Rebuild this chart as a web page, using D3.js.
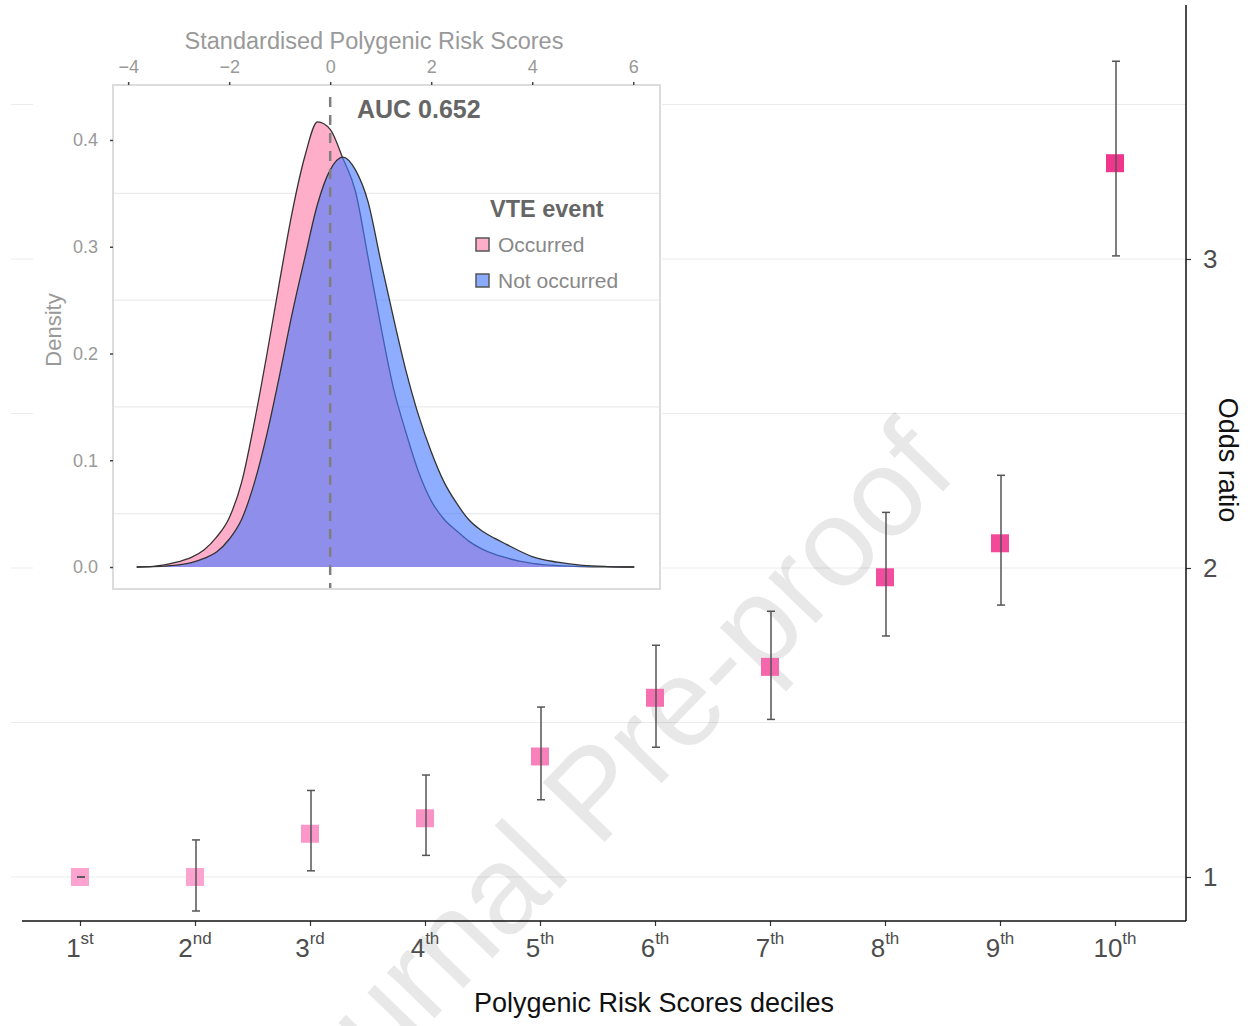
<!DOCTYPE html>
<html>
<head>
<meta charset="utf-8">
<script src="https://cdn.jsdelivr.net/npm/d3@7"></script>
<style>
  body { margin: 0; background: #fff; }
  svg { display: block; font-family: "Liberation Sans", Arial, sans-serif; }
</style>
</head>
<body>
<svg id="chart" width="1250" height="1026"></svg>
<script>
// odds ratios by PRS decile
var deciles = ['1', '2', '3', '4', '5', '6', '7', '8', '9', '10'];
var suffixes = ['st', 'nd', 'rd', 'th', 'th', 'th', 'th', 'th', 'th', 'th'];
var oddsRatio = [1.00, 1.00, 1.14, 1.19, 1.39, 1.58, 1.68, 1.97, 2.08, 3.31];
var ciLow = [1.00, 0.89, 1.02, 1.07, 1.25, 1.42, 1.51, 1.78, 1.88, 3.01];
var ciHigh = [1.00, 1.12, 1.28, 1.33, 1.55, 1.75, 1.86, 2.18, 2.30, 3.64];
var orTicks = [1, 2, 3];

// density of standardised PRS (inset)
var prsGrid = [-3.83, -3.5, -3.0, -2.75, -2.5, -2.25, -2.0, -1.75, -1.5, -1.25, -1.0, -0.75, -0.5, -0.25,
    0.0, 0.25, 0.5, 0.75, 1.0, 1.25, 1.5, 1.75, 2.0, 2.25, 2.5, 2.75, 3.0, 3.25, 3.5, 3.75, 4.0, 4.5, 5.0, 5.5, 6.02];
var densOccurred = [0, 0.0006, 0.005, 0.009, 0.016, 0.028, 0.046, 0.08, 0.136, 0.2, 0.268, 0.333, 0.385, 0.417,
    0.41, 0.383, 0.352, 0.29, 0.226, 0.168, 0.126, 0.089, 0.062, 0.045, 0.034, 0.024, 0.017, 0.012, 0.0085, 0.0055, 0.0035, 0.0013, 0.0004, 0.0001, 0];
var densNotOccurred = [0, 0.0003, 0.002, 0.004, 0.008, 0.014, 0.026, 0.045, 0.079, 0.125, 0.18, 0.238, 0.29, 0.34,
    0.372, 0.384, 0.372, 0.342, 0.287, 0.234, 0.184, 0.142, 0.108, 0.08, 0.06, 0.044, 0.034, 0.027, 0.021, 0.015, 0.0098, 0.0045, 0.0015, 0.0004, 0];
var prsTicks = [-4, -2, 0, 2, 4, 6];
var densTicks = [0, 0.1, 0.2, 0.3, 0.4];
var densMinor = [0.05, 0.15, 0.25, 0.35];
var groups = ['Occurred', 'Not occurred'];
var aucLabel = 'AUC 0.652';

var svg = d3.select('#chart');

// ---- main panel ----
var panel = {l: 11, r: 1186, t: 5, b: 921};

var x = d3.scalePoint()
    .domain(deciles)
    .range([80, 1115]);

var y = d3.scaleLinear()
    .domain([0.8576, 3.822])
    .range([panel.b, panel.t]);

var gridVals = [1, 1.5, 2, 2.5, 3, 3.5];
svg.append('g')
    .selectAll('line')
    .data(gridVals)
    .enter()
    .append('line')
    .attr('x1', panel.l)
    .attr('x2', panel.r)
    .attr('y1', function (d) { return y(d); })
    .attr('y2', function (d) { return y(d); })
    .style('stroke', '#ebebeb')
    .style('stroke-width', 1.2);

// watermark
svg.append('text')
    .attr('transform', 'translate(' + [624, 822] + ') rotate(-46)')
    .attr('text-anchor', 'middle')
    .style('font-size', '125px')
    .style('fill', '#000')
    .style('fill-opacity', 0.09)
    .text('Journal Pre-proof');

// bottom axis
var xAxis = svg.append('g')
    .attr('transform', 'translate(0,' + panel.b + ')')
    .call(d3.axisBottom(x).tickSize(5).tickFormat(''));
xAxis.select('.domain').remove();
xAxis.selectAll('.tick line').style('stroke', '#333').style('stroke-width', 1.2);
svg.append('line')
    .attr('x1', 22).attr('x2', panel.r)
    .attr('y1', panel.b).attr('y2', panel.b)
    .style('stroke', '#111').style('stroke-width', 1.5);

var xl = svg.append('g')
    .selectAll('text')
    .data(deciles)
    .enter()
    .append('text')
    .attr('x', function (d) { return x(d); })
    .attr('y', 957)
    .attr('text-anchor', 'middle')
    .style('font-size', '26px')
    .style('fill', '#4d4d4d');
xl.append('tspan').text(function (d) { return d; });
xl.append('tspan')
    .attr('dy', -13)
    .style('font-size', '17px')
    .text(function (d, i) { return suffixes[i]; });

// right axis
var yAxis = svg.append('g')
    .attr('transform', 'translate(' + panel.r + ',0)')
    .call(d3.axisRight(y).tickValues(orTicks).tickSize(5).tickPadding(12).tickFormat(d3.format('d')));
yAxis.select('.domain').remove();
yAxis.selectAll('.tick line').style('stroke', '#333').style('stroke-width', 1.2);
yAxis.selectAll('.tick text')
    .style('font-size', '26px')
    .style('fill', '#4d4d4d')
    .style('font-family', '"Liberation Sans", Arial, sans-serif');
svg.append('line')
    .attr('x1', panel.r).attr('x2', panel.r)
    .attr('y1', panel.t).attr('y2', panel.b)
    .style('stroke', '#111').style('stroke-width', 1.5);

svg.append('text')
    .attr('x', 654)
    .attr('y', 1012)
    .attr('text-anchor', 'middle')
    .style('font-size', '27px')
    .style('fill', '#111')
    .text('Polygenic Risk Scores deciles');

svg.append('text')
    .attr('transform', 'translate(' + [1219, 460] + ') rotate(90)')
    .attr('text-anchor', 'middle')
    .style('font-size', '27px')
    .style('fill', '#111')
    .text('Odds ratio');

// points and error bars
var pointColor = d3.scaleLinear()
    .domain([1, 2, 3.3])
    .range(['#fca4cf', '#f24a9c', '#f0358d']);
var sq = 18;
var cap = 4;

var pts = deciles.map(function (d, i) {
    return {dec: d, or: oddsRatio[i], lo: ciLow[i], hi: ciHigh[i]};
});

svg.append('g')
    .selectAll('rect')
    .data(pts)
    .enter()
    .append('rect')
    .attr('x', function (d) { return x(d.dec) - sq / 2; })
    .attr('y', function (d) { return y(d.or) - sq / 2; })
    .attr('width', sq)
    .attr('height', sq)
    .style('fill', function (d) { return pointColor(d.or); });

var eb = svg.append('g')
    .selectAll('g')
    .data(pts)
    .enter()
    .append('g')
    .style('stroke', '#555')
    .style('stroke-width', 1.5);
eb.append('line')
    .attr('x1', function (d) { return x(d.dec) + 1; })
    .attr('x2', function (d) { return x(d.dec) + 1; })
    .attr('y1', function (d) { return y(d.lo); })
    .attr('y2', function (d) { return y(d.hi); });
eb.append('line')
    .attr('x1', function (d) { return x(d.dec) + 1 - cap; })
    .attr('x2', function (d) { return x(d.dec) + 1 + cap; })
    .attr('y1', function (d) { return y(d.lo); })
    .attr('y2', function (d) { return y(d.lo); });
eb.append('line')
    .attr('x1', function (d) { return x(d.dec) + 1 - cap; })
    .attr('x2', function (d) { return x(d.dec) + 1 + cap; })
    .attr('y1', function (d) { return y(d.hi); })
    .attr('y2', function (d) { return y(d.hi); });

// ---- inset density plot ----
var ip = {l: 113, r: 660, t: 85, b: 589};

svg.append('rect')
    .attr('x', 33).attr('y', 22)
    .attr('width', 629).attr('height', 570)
    .style('fill', '#fff');

var xi = d3.scaleLinear()
    .domain([-4.3, 6.53])
    .range([ip.l, ip.r]);
var yi = d3.scaleLinear()
    .domain([-0.0206, 0.4515])
    .range([ip.b, ip.t]);

svg.append('g')
    .selectAll('line')
    .data(densMinor)
    .enter()
    .append('line')
    .attr('x1', ip.l).attr('x2', ip.r)
    .attr('y1', function (d) { return yi(d); })
    .attr('y2', function (d) { return yi(d); })
    .style('stroke', '#ebebeb')
    .style('stroke-width', 1.2);

var area = d3.area()
    .x(function (d) { return xi(d[0]); })
    .y0(yi(0))
    .y1(function (d) { return yi(d[1]); })
    .curve(d3.curveMonotoneX);
var line = d3.line()
    .x(function (d) { return xi(d[0]); })
    .y(function (d) { return yi(d[1]); })
    .curve(d3.curveMonotoneX);

var occ = prsGrid.map(function (v, i) { return [v, densOccurred[i]]; });
var notOcc = prsGrid.map(function (v, i) { return [v, densNotOccurred[i]]; });

svg.append('path').datum(occ).attr('d', area).style('fill', '#ffaec9');
svg.append('path').datum(occ).attr('d', line)
    .style('fill', 'none').style('stroke', '#333').style('stroke-width', 1.3);
svg.append('path').datum(notOcc).attr('d', area).style('fill', '#4a7bff').style('fill-opacity', 0.62);
svg.append('path').datum(notOcc).attr('d', line)
    .style('fill', 'none').style('stroke', '#333').style('stroke-width', 1.3);

// vertical dashed line at 0
svg.append('line')
    .attr('x1', xi(0)).attr('x2', xi(0))
    .attr('y1', ip.t + 12).attr('y2', ip.b)
    .style('stroke', '#7f7f7f')
    .style('stroke-width', 2.5)
    .style('stroke-dasharray', '10,8');

svg.append('rect')
    .attr('x', ip.l).attr('y', ip.t)
    .attr('width', ip.r - ip.l).attr('height', ip.b - ip.t)
    .style('fill', 'none')
    .style('stroke', '#dcdcdc')
    .style('stroke-width', 2);

var topAxis = svg.append('g')
    .attr('transform', 'translate(0,' + ip.t + ')')
    .call(d3.axisTop(xi).tickValues(prsTicks).tickSize(3).tickPadding(9).tickFormat(d3.format('d')));
var leftAxis = svg.append('g')
    .attr('transform', 'translate(' + ip.l + ',0)')
    .call(d3.axisLeft(yi).tickValues(densTicks).tickSize(3).tickPadding(12).tickFormat(d3.format('.1f')));
[topAxis, leftAxis].forEach(function (a) {
    a.select('.domain').remove();
    a.selectAll('.tick line').style('stroke', '#444').style('stroke-width', 1.5);
    a.selectAll('.tick text')
        .style('font-size', '18px')
        .style('fill', '#999')
        .style('font-family', '"Liberation Sans", Arial, sans-serif');
});

svg.append('text')
    .attr('x', 374)
    .attr('y', 49)
    .attr('text-anchor', 'middle')
    .style('font-size', '23.5px')
    .style('fill', '#999')
    .text('Standardised Polygenic Risk Scores');

svg.append('text')
    .attr('transform', 'translate(' + [61, 330] + ') rotate(-90)')
    .attr('text-anchor', 'middle')
    .style('font-size', '22px')
    .style('fill', '#999')
    .text('Density');

svg.append('text')
    .attr('x', 357)
    .attr('y', 118)
    .style('font-size', '25px')
    .style('font-weight', 'bold')
    .style('fill', '#666')
    .text(aucLabel);

// legend
var legColors = ['#ffaec9', '#8aabfb'];
svg.append('text')
    .attr('x', 490)
    .attr('y', 217)
    .style('font-size', '23.5px')
    .style('font-weight', 'bold')
    .style('fill', '#666')
    .text('VTE event');

var leg = svg.append('g')
    .selectAll('g')
    .data(groups)
    .enter()
    .append('g')
    .attr('transform', function (d, i) { return 'translate(' + [476, 238 + i * 36] + ')'; });
leg.append('rect')
    .attr('width', 13).attr('height', 13)
    .style('fill', function (d, i) { return legColors[i]; })
    .style('stroke', '#555')
    .style('stroke-width', 1.5);
leg.append('text')
    .attr('x', 22)
    .attr('y', 14)
    .style('font-size', '21px')
    .style('fill', '#888')
    .text(function (d) { return d; });
</script>
</body>
</html>
